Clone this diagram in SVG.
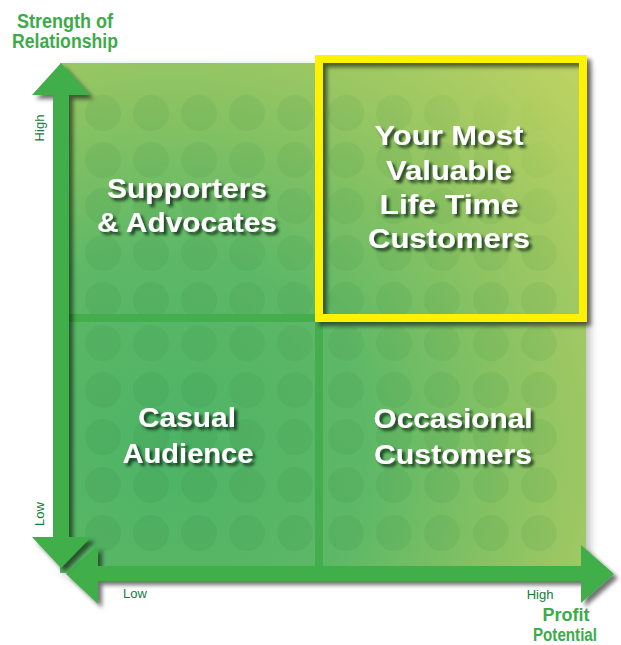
<svg xmlns="http://www.w3.org/2000/svg" width="621" height="645" viewBox="0 0 621 645">
<defs>
<radialGradient id="bg" gradientUnits="userSpaceOnUse" cx="170" cy="450" r="560">
<stop offset="0" stop-color="#4db366"/>
<stop offset="0.35" stop-color="#5db866"/>
<stop offset="0.7" stop-color="#97c663"/>
<stop offset="1" stop-color="#bfd362"/>
</radialGradient>
<linearGradient id="dotg" gradientUnits="userSpaceOnUse" x1="100" y1="560" x2="586" y2="63">
<stop offset="0" stop-color="#1f7030"/>
<stop offset="0.75" stop-color="#3a8a3a"/>
<stop offset="1" stop-color="#f0ec50"/>
</linearGradient>
<filter id="sh" x="-20%" y="-20%" width="140%" height="140%">
<feDropShadow dx="3" dy="3" stdDeviation="1.8" flood-color="#0d2a12" flood-opacity="0.85"/>
</filter>
<filter id="ash" x="-20%" y="-20%" width="140%" height="140%">
<feDropShadow dx="4" dy="4" stdDeviation="2" flood-color="#000" flood-opacity="0.55"/>
</filter>
<filter id="bsh" x="-10%" y="-10%" width="120%" height="120%">
<feDropShadow dx="4" dy="3" stdDeviation="4" flood-color="#000" flood-opacity="0.25"/>
</filter>
<style>
.dot{fill:url(#dotg);opacity:0.1}
.q{font-family:"Liberation Sans",Arial,sans-serif;font-weight:bold;font-size:27px;fill:#ffffff;text-anchor:middle;filter:url(#sh)}
.ttl{font-family:"Liberation Sans Narrow","Liberation Sans",Arial,sans-serif;font-weight:bold;font-size:20px;fill:#3dab4a;text-anchor:middle}
.ttl2{font-size:18px}
.ax{font-family:"Liberation Sans",Arial,sans-serif;font-size:13px;fill:#19793a;text-anchor:middle}
.arrow{fill:#3fae49}
.div{fill:#44ad4c}
</style>
</defs>
<rect width="621" height="645" fill="#ffffff"/>

<g id="background">
<rect x="60" y="63" width="526" height="510" fill="url(#bg)" filter="url(#bsh)"/>
<g id="dots">
<circle class="dot" cx="103" cy="113" r="18"/><circle class="dot" cx="151" cy="113" r="18"/><circle class="dot" cx="199" cy="113" r="18"/><circle class="dot" cx="247" cy="113" r="18"/><circle class="dot" cx="295" cy="113" r="18"/><circle class="dot" cx="346" cy="113" r="18"/><circle class="dot" cx="394" cy="113" r="18"/><circle class="dot" cx="442" cy="113" r="18"/><circle class="dot" cx="491" cy="113" r="18"/><circle class="dot" cx="539" cy="113" r="18"/>
<circle class="dot" cx="103" cy="160" r="18"/><circle class="dot" cx="151" cy="160" r="18"/><circle class="dot" cx="199" cy="160" r="18"/><circle class="dot" cx="247" cy="160" r="18"/><circle class="dot" cx="295" cy="160" r="18"/><circle class="dot" cx="346" cy="160" r="18"/><circle class="dot" cx="394" cy="160" r="18"/><circle class="dot" cx="442" cy="160" r="18"/><circle class="dot" cx="491" cy="160" r="18"/><circle class="dot" cx="539" cy="160" r="18"/>
<circle class="dot" cx="103" cy="206" r="18"/><circle class="dot" cx="151" cy="206" r="18"/><circle class="dot" cx="199" cy="206" r="18"/><circle class="dot" cx="247" cy="206" r="18"/><circle class="dot" cx="295" cy="206" r="18"/><circle class="dot" cx="346" cy="206" r="18"/><circle class="dot" cx="394" cy="206" r="18"/><circle class="dot" cx="442" cy="206" r="18"/><circle class="dot" cx="491" cy="206" r="18"/><circle class="dot" cx="539" cy="206" r="18"/>
<circle class="dot" cx="103" cy="253" r="18"/><circle class="dot" cx="151" cy="253" r="18"/><circle class="dot" cx="199" cy="253" r="18"/><circle class="dot" cx="247" cy="253" r="18"/><circle class="dot" cx="295" cy="253" r="18"/><circle class="dot" cx="346" cy="253" r="18"/><circle class="dot" cx="394" cy="253" r="18"/><circle class="dot" cx="442" cy="253" r="18"/><circle class="dot" cx="491" cy="253" r="18"/><circle class="dot" cx="539" cy="253" r="18"/>
<circle class="dot" cx="103" cy="300" r="18"/><circle class="dot" cx="151" cy="300" r="18"/><circle class="dot" cx="199" cy="300" r="18"/><circle class="dot" cx="247" cy="300" r="18"/><circle class="dot" cx="295" cy="300" r="18"/><circle class="dot" cx="346" cy="300" r="18"/><circle class="dot" cx="394" cy="300" r="18"/><circle class="dot" cx="442" cy="300" r="18"/><circle class="dot" cx="491" cy="300" r="18"/><circle class="dot" cx="539" cy="300" r="18"/>
<circle class="dot" cx="103" cy="343" r="18"/><circle class="dot" cx="151" cy="343" r="18"/><circle class="dot" cx="199" cy="343" r="18"/><circle class="dot" cx="247" cy="343" r="18"/><circle class="dot" cx="295" cy="343" r="18"/><circle class="dot" cx="346" cy="343" r="18"/><circle class="dot" cx="394" cy="343" r="18"/><circle class="dot" cx="442" cy="343" r="18"/><circle class="dot" cx="491" cy="343" r="18"/><circle class="dot" cx="539" cy="343" r="18"/>
<circle class="dot" cx="103" cy="390" r="18"/><circle class="dot" cx="151" cy="390" r="18"/><circle class="dot" cx="199" cy="390" r="18"/><circle class="dot" cx="247" cy="390" r="18"/><circle class="dot" cx="295" cy="390" r="18"/><circle class="dot" cx="346" cy="390" r="18"/><circle class="dot" cx="394" cy="390" r="18"/><circle class="dot" cx="442" cy="390" r="18"/><circle class="dot" cx="491" cy="390" r="18"/><circle class="dot" cx="539" cy="390" r="18"/>
<circle class="dot" cx="103" cy="437" r="18"/><circle class="dot" cx="151" cy="437" r="18"/><circle class="dot" cx="199" cy="437" r="18"/><circle class="dot" cx="247" cy="437" r="18"/><circle class="dot" cx="295" cy="437" r="18"/><circle class="dot" cx="346" cy="437" r="18"/><circle class="dot" cx="394" cy="437" r="18"/><circle class="dot" cx="442" cy="437" r="18"/><circle class="dot" cx="491" cy="437" r="18"/><circle class="dot" cx="539" cy="437" r="18"/>
<circle class="dot" cx="103" cy="485" r="18"/><circle class="dot" cx="151" cy="485" r="18"/><circle class="dot" cx="199" cy="485" r="18"/><circle class="dot" cx="247" cy="485" r="18"/><circle class="dot" cx="295" cy="485" r="18"/><circle class="dot" cx="346" cy="485" r="18"/><circle class="dot" cx="394" cy="485" r="18"/><circle class="dot" cx="442" cy="485" r="18"/><circle class="dot" cx="491" cy="485" r="18"/><circle class="dot" cx="539" cy="485" r="18"/>
<circle class="dot" cx="103" cy="533" r="18"/><circle class="dot" cx="151" cy="533" r="18"/><circle class="dot" cx="199" cy="533" r="18"/><circle class="dot" cx="247" cy="533" r="18"/><circle class="dot" cx="295" cy="533" r="18"/><circle class="dot" cx="346" cy="533" r="18"/><circle class="dot" cx="394" cy="533" r="18"/><circle class="dot" cx="442" cy="533" r="18"/><circle class="dot" cx="491" cy="533" r="18"/><circle class="dot" cx="539" cy="533" r="18"/>
</g>
<rect class="div" x="315" y="63" width="8" height="505"/>
<rect class="div" x="69" y="314" width="517" height="8"/>
</g>

<g id="connectors">
<polygon class="arrow" filter="url(#ash)" points="58,566 581,566 581,545 614,574 581,603 581,581 98,581 98,604 66,574 98,545 98,566 58,566"/>
<polygon class="arrow" filter="url(#ash)" points="61,63 90,95 69,95 69,537 91,537 61,568 32,537 53,537 53,95 32,95"/>
<text class="ax" transform="translate(44,128) rotate(-90)">High</text>
<text class="ax" transform="translate(44,514) rotate(-90)">Low</text>
<text class="ax" x="135" y="598">Low</text>
<text class="ax" x="540" y="599">High</text>
</g>

<g id="axis-title-y">
<text class="ttl" x="65" y="28" textLength="96" lengthAdjust="spacingAndGlyphs">Strength of</text>
<text class="ttl" x="65" y="48" textLength="106" lengthAdjust="spacingAndGlyphs">Relationship</text>
</g>
<g id="axis-title-x">
<text class="ttl ttl2" x="566" y="621" textLength="47" lengthAdjust="spacingAndGlyphs">Profit</text>
<text class="ttl ttl2" x="565" y="641" textLength="64" lengthAdjust="spacingAndGlyphs">Potential</text>
</g>

<g id="supporters">
<text class="q" x="187" y="198" textLength="160" lengthAdjust="spacingAndGlyphs">Supporters</text>
<text class="q" x="187" y="232" textLength="180" lengthAdjust="spacingAndGlyphs">&amp; Advocates</text>
</g>

<g id="most-valuable">
<rect x="319" y="59" width="264" height="259" fill="none" stroke="#fff200" stroke-width="8" filter="url(#ash)"/>
<text class="q" x="449" y="145" textLength="149" lengthAdjust="spacingAndGlyphs">Your Most</text>
<text class="q" x="449" y="180" textLength="126" lengthAdjust="spacingAndGlyphs">Valuable</text>
<text class="q" x="449" y="214" textLength="139" lengthAdjust="spacingAndGlyphs">Life Time</text>
<text class="q" x="449" y="248" textLength="162" lengthAdjust="spacingAndGlyphs">Customers</text>
</g>

<g id="casual">
<text class="q" x="187" y="427" textLength="98" lengthAdjust="spacingAndGlyphs">Casual</text>
<text class="q" x="188" y="463" textLength="131" lengthAdjust="spacingAndGlyphs">Audience</text>
</g>

<g id="occasional">
<text class="q" x="453" y="428" textLength="159" lengthAdjust="spacingAndGlyphs">Occasional</text>
<text class="q" x="453" y="464" textLength="158" lengthAdjust="spacingAndGlyphs">Customers</text>
</g>
</svg>
